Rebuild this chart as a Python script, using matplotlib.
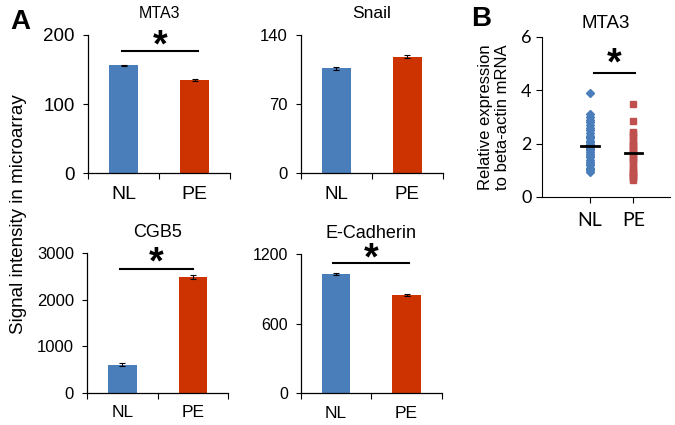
import matplotlib
matplotlib.use("Agg")
import matplotlib.pyplot as plt
import numpy as np

plt.rcParams['font.family'] = ['Liberation Sans', 'DejaVu Sans']

groups = ["NL", "PE"]

mta3_vals = [156, 135]
mta3_err = [1.0, 1.0]
snail_vals = [106, 118]
snail_err = [1.2, 1.2]
cgb5_vals = [605, 2490]
cgb5_err = [35, 45]
ecad_vals = [1030, 848]
ecad_err = [10, 6]

b_nl = [3.9, 3.1, 3.0, 2.9, 2.8, 2.7, 2.6, 2.5, 2.4, 2.3, 2.25, 2.2, 2.1, 2.05,
        2.0, 1.95, 1.9, 1.85, 1.8, 1.75, 1.7, 1.6, 1.55, 1.5, 1.4, 1.3, 1.25,
        1.2, 1.1, 1.05, 1.0, 0.95]
b_pe = [3.5, 2.85, 2.45, 2.4, 2.3, 2.2, 2.1, 2.0, 1.95, 1.9, 1.8, 1.75, 1.7,
        1.6, 1.5, 1.45, 1.4, 1.3, 1.2, 1.1, 1.0, 0.95, 0.9, 0.85, 0.8, 0.75,
        0.7, 0.65]
b_means = [1.9, 1.65]

BLUE = "#4A7EBB"
RED = "#CC3300"
RED_PT = "#C0504D"

fig = plt.figure(figsize=(6.75, 4.25), dpi=100)

def bar_panel(rect, title, vals, errs, ymax, yticks, tfs, yfs, xfs, sig=None):
    ax = fig.add_axes(rect)
    x = np.arange(len(vals))
    ax.bar(x, vals, width=0.4, color=[BLUE, RED], zorder=2)
    ax.errorbar(x, vals, yerr=errs, fmt='none', ecolor='black', capsize=2,
                elinewidth=0.8, capthick=0.8, zorder=3)
    ax.set_xlim(-0.5, 1.5)
    ax.set_ylim(0, ymax)
    ax.set_yticks(yticks)
    ax.set_xticks([-0.5, 0.5, 1.5])
    ax.set_xticklabels([])
    ax.set_xticks(x, minor=True)
    ax.set_xticklabels(groups, minor=True)
    ax.tick_params(axis='x', which='minor', length=0, pad=9, labelsize=xfs)
    ax.tick_params(axis='x', which='major', length=4, direction='out', width=0.8)
    ax.tick_params(axis='y', length=3.5, direction='out', labelsize=yfs, width=0.8, pad=6)
    for s in ['top', 'right']:
        ax.spines[s].set_visible(False)
    for s in ['left', 'bottom']:
        ax.spines[s].set_linewidth(0.9)
    ax.set_title(title, fontsize=tfs, pad=12)
    if sig is not None:
        x0, x1, yl, ys = sig
        ax.plot([x0, x1], [yl, yl], color='black', lw=1.5, clip_on=False)
        ax.text((x0 + x1) / 2, ys, "*", ha='center', va='center',
                fontsize=27, fontweight='bold', clip_on=False)
    return ax

bar_panel([0.1304, 0.592, 0.2104, 0.326], "MTA3", mta3_vals, mta3_err, 200,
          [0, 100, 200], 11.5, 13.5, 14, sig=(-0.02, 1.05, 177, 183))
bar_panel([0.4459, 0.592, 0.2104, 0.326], "Snail", snail_vals, snail_err, 140,
          [0, 70, 140], 12.5, 12, 13.5)
bar_panel([0.1293, 0.076, 0.2085, 0.328], "CGB5", cgb5_vals, cgb5_err, 3000,
          [0, 1000, 2000, 3000], 13, 12, 12.5, sig=(-0.03, 1.0, 2669, 2780))
bar_panel([0.4459, 0.075, 0.2085, 0.3265], "E-Cadherin", ecad_vals, ecad_err, 1200,
          [0, 600, 1200], 13, 11.5, 12.5, sig=(-0.045, 1.035, 1122, 1160))

# Panel B
axb = fig.add_axes([0.803, 0.5365, 0.19, 0.377])
xs = [1, 2]
axb.plot([xs[0]] * len(b_nl), b_nl, linestyle='none', marker='D', ms=4,
         color=BLUE, mec=BLUE, zorder=2, clip_on=False)
axb.plot([xs[1]] * len(b_pe), b_pe, linestyle='none', marker='s', ms=5,
         color=RED_PT, mec=RED_PT, zorder=2, clip_on=False)
for xi, m in zip(xs, b_means):
    axb.plot([xi - 0.2, xi + 0.2], [m, m], color='black', lw=2, zorder=3)
axb.set_xlim(-0.1, 2.85)
axb.set_ylim(0, 6)
axb.set_yticks([0, 2, 4, 6])
axb.set_xticks(xs)
axb.set_xticklabels(groups)
for lab in axb.get_xticklabels() + axb.get_yticklabels():
    lab.set_family(['Lato', 'DejaVu Sans'])
axb.tick_params(axis='x', length=4, direction='out', pad=7, labelsize=14, width=0.8)
axb.tick_params(axis='y', length=4, direction='out', labelsize=13, width=0.8)
for s in ['top', 'right']:
    axb.spines[s].set_visible(False)
axb.set_title("MTA3", fontsize=13.5, pad=6)
axb.plot([1.09, 2.03], [4.65, 4.65], color='black', lw=1.5, clip_on=False)
axb.text(1.56, 4.95, "*", ha='center', va='center', fontsize=27,
         fontweight='bold', clip_on=False)
axb.set_ylabel("Relative expression\nto beta-actin mRNA", fontsize=12,
               labelpad=8, linespacing=1.15)

fig.text(0.027, 0.495, "Signal intensity in microarray", rotation=90,
         ha='center', va='center', fontsize=13.5)
fig.text(0.016, 0.948, "A", fontsize=20, fontweight='bold', ha='left', va='center')
fig.text(0.698, 0.956, "B", fontsize=20, fontweight='bold', ha='left', va='center')

fig.savefig("out.png", dpi=100)
